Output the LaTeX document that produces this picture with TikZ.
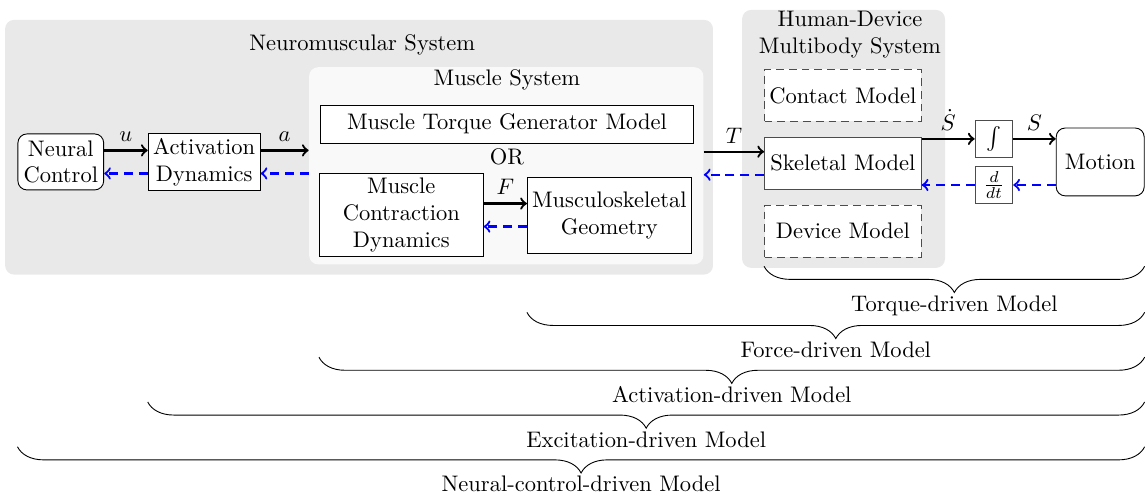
\documentclass[tikz,border=0pt]{standalone}
\usetikzlibrary{positioning,decorations.pathreplacing}
\begin{document}
\begin{tikzpicture}[node distance=1.06cm,
		block/.style={draw, fill=white, align=center, inner sep=2pt},
		hdblock/.style={block, draw=black!70, minimum width=2.45cm, minimum height=0.81cm},
		bg/.style={fill=gray!17, rounded corners, inner sep=0pt},
		flow/.style={->, line width=1pt},
		feed/.style={->, line width=1pt, blue, dash pattern=on 4pt off 2.6pt},
		brc/.style={decorate, decoration={brace, mirror, amplitude=0.41cm}},
		brclabel/.style={midway, below=0.42cm, inner sep=1pt}]
	\useasboundingbox (0,0) rectangle (17.89,-7.78);
	\node[bg, minimum width=11.06cm, minimum height=3.98cm] (nms) at (5.61,-2.30) {};
	\node[bg, fill=gray!5, minimum width=6.16cm, minimum height=3.08cm] (ms) at (7.91,-2.59) {};
	\node[bg, minimum width=3.17cm, minimum height=4.03cm] (hd) at (13.18,-2.17) {};
	\node (nmstitle) at (5.66,-0.70) {Neuromuscular System};
	\node (mstitle) at (7.92,-1.25) {Muscle System};
	\node[align=center] (hdtitle) at (13.28,-0.54) {Human-Device\\Multibody System};
	\node[block, rounded corners, minimum width=1.34cm, minimum height=0.875cm] (nc) at (0.95,-2.53) {Neural\\Control};
	\node[block, minimum width=1.75cm, minimum height=0.875cm, right of=nc, node distance=2.24cm] (ad) {Activation\\Dynamics};
	\node[block, minimum width=5.83cm, minimum height=0.59cm] (mtg) at (7.92,-1.94) {Muscle Torque Generator Model};
	\node[below of=mtg, node distance=0.51cm] (or) {OR};
	\node[block, minimum width=2.56cm, minimum height=1.19cm] (mcd) at (6.27,-3.36) {Muscle\\Contraction\\Dynamics};
	\node[block, minimum width=2.56cm, minimum height=1.19cm, right of=mcd, node distance=3.25cm] (msg) {Musculoskeletal\\Geometry};
	\node[hdblock] (skel) at (13.17,-2.55) {Skeletal Model};
	\node[hdblock, dash pattern=on 3.5pt off 2.2pt, above of=skel] (con) {Contact Model};
	\node[hdblock, dash pattern=on 3.5pt off 2.2pt, below of=skel] (dev) {Device Model};
	\node[block, draw=black!70, minimum size=0.59cm] (int) at (15.53,-2.17) {$\int$};
	\node[block, draw=black!70, minimum size=0.59cm, below of=int, node distance=0.72cm] (ddt) {$\frac{d}{dt}$};
	\node[block, rounded corners, minimum width=1.375cm, minimum height=1.06cm] (motion) at (17.19,-2.53) {Motion};
	\draw[flow] ([yshift=0.18cm]nc.east) -- node[above]{$u$} ([yshift=0.18cm]nc.east -| ad.west);
	\draw[feed] ([yshift=-0.18cm]ad.west) -- ([yshift=-0.18cm]ad.west -| nc.east);
	\draw[flow] ([yshift=0.18cm]ad.east) -- node[above]{$a$} ([yshift=0.18cm]ad.east -| ms.west);
	\draw[feed] ([yshift=-0.18cm]ad.east -| ms.west) -- ([yshift=-0.18cm]ad.east);
	\draw[flow] ([yshift=0.18cm]mcd.east) -- node[above]{$F$} ([yshift=0.18cm]mcd.east -| msg.west);
	\draw[feed] ([yshift=-0.18cm]msg.west) -- ([yshift=-0.18cm]msg.west -| mcd.east);
	\draw[flow] ([yshift=0.18cm]skel.west -| ms.east) -- node[above]{$T$} ([yshift=0.18cm]skel.west);
	\draw[feed] ([yshift=-0.18cm]skel.west) -- ([yshift=-0.18cm]skel.west -| ms.east);
	\draw[flow] (int.west -| skel.east) -- node[above]{$\dot{S}$} (int.west);
	\draw[flow] (int.east) -- node[above]{$S$} (int.east -| motion.west);
	\draw[feed] (ddt.east -| motion.west) -- (ddt.east);
	\draw[feed] (ddt.west) -- (ddt.west -| skel.east);
	\draw[brc] (skel.west |- 0,-4.16) -- node[brclabel]{Torque-driven Model} (motion.east |- 0,-4.16);
	\draw[brc] (msg.west |- 0,-4.88) -- node[brclabel]{Force-driven Model} (motion.east |- 0,-4.88);
	\draw[brc] (mcd.west |- 0,-5.58) -- node[brclabel]{Activation-driven Model} (motion.east |- 0,-5.58);
	\draw[brc] (ad.west |- 0,-6.28) -- node[brclabel]{Excitation-driven Model} (motion.east |- 0,-6.28);
	\draw[brc] (nc.west |- 0,-6.98) -- node[brclabel]{Neural-control-driven Model} (motion.east |- 0,-6.98);
\end{tikzpicture}
\end{document}
